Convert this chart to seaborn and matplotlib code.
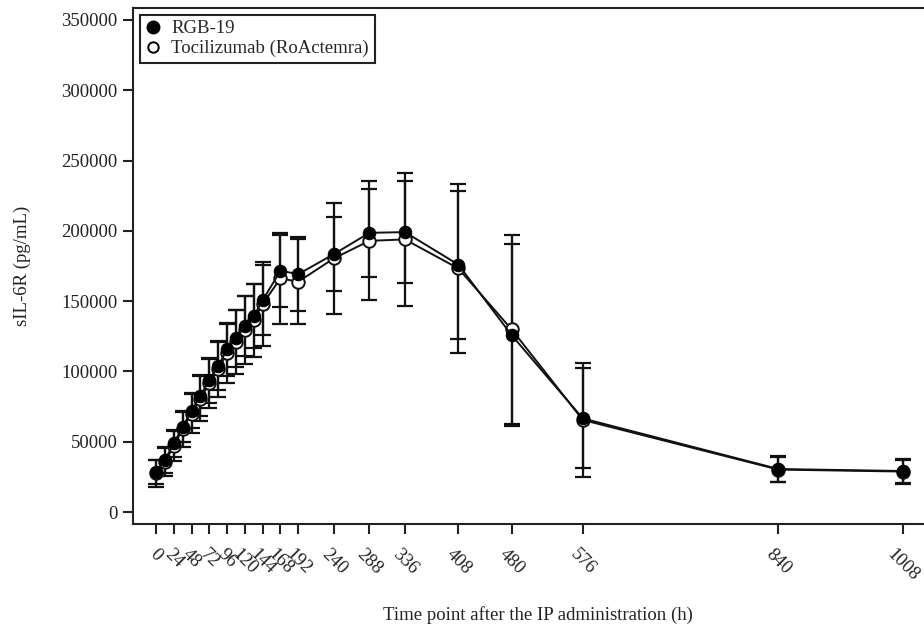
import matplotlib
matplotlib.use("Agg")
import matplotlib.pyplot as plt
from matplotlib.lines import Line2D
import seaborn as sns
import pandas as pd

# ---- data ----
time_h = [0, 12, 24, 36, 48, 60, 72, 84, 96, 108, 120, 132, 144, 168, 192,
          240, 288, 336, 408, 480, 576, 840, 1008]
rgb_mean = [28700, 37000, 48800, 60700, 72000, 82700, 93900, 104000, 115700,
            123500, 132300, 139400, 150700, 171600, 169200, 183400, 198600,
            199100, 176000, 125800, 66600, 30600, 29200]
rgb_sd = [8500, 9000, 9500, 11000, 12500, 14500, 16000, 17500, 19000, 20000,
          21500, 23000, 25000, 25600, 26100, 26300, 31300, 36500, 52600,
          64500, 35500, 9000, 8300]
toci_mean = [27500, 35500, 47000, 59000, 70000, 80500, 91500, 101500, 113000,
             121000, 129500, 136500, 148000, 166200, 163800, 180400, 192900,
             193900, 173300, 129900, 65500, 30200, 28800]
toci_sd = [9500, 10000, 11000, 12500, 14000, 16000, 17500, 19500, 21000,
           22500, 24000, 26000, 30000, 32500, 30100, 39500, 42300, 47200,
           60000, 67000, 40300, 9000, 8500]
xtick_vals = [0, 24, 48, 72, 96, 120, 144, 168, 192, 240, 288, 336, 408, 480,
              576, 840, 1008]
ytick_vals = [0, 50000, 100000, 150000, 200000, 250000, 300000, 350000]
series_names = ["RGB-19", "Tocilizumab (RoActemra)"]

df_rgb = pd.DataFrame({"time": time_h, "value": rgb_mean, "sd": rgb_sd})
df_toc = pd.DataFrame({"time": time_h, "value": toci_mean, "sd": toci_sd})

sns.set_theme(style="ticks")
plt.rcParams["font.family"] = ["Liberation Serif", "DejaVu Serif"]
plt.rcParams["axes.linewidth"] = 1.5

fig = plt.figure(figsize=(9.24, 6.3), dpi=100)
W, H = 924, 630
px_per_h = 0.741
x_left = -31
x_right = 1062
ax_w = (x_right - x_left) * px_per_h
ax = fig.add_axes([133 / W, (H - 524) / H, ax_w / W, (524 - 8) / H])

# error bars
for d in (df_toc, df_rgb):
    ax.errorbar(d["time"], d["value"], yerr=d["sd"], fmt="none",
                ecolor="#111111", elinewidth=1.6, capsize=6, capthick=1.6,
                zorder=2)

# lines + markers
sns.lineplot(data=df_toc, x="time", y="value", ax=ax, color="#111111",
             linewidth=1.4, marker="o", markersize=9,
             markerfacecolor="white", markeredgecolor="#111111",
             markeredgewidth=1.4, zorder=3, label=series_names[1])
sns.lineplot(data=df_rgb, x="time", y="value", ax=ax, color="#111111",
             linewidth=1.4, marker="o", markersize=9,
             markerfacecolor="#000000", markeredgecolor="#000000",
             zorder=4, label=series_names[0])

ax.set_xlim(x_left, x_right)
ax.set_ylim(-8500, 358500)
ax.set_xticks(xtick_vals)
ax.set_xticklabels([str(v) for v in xtick_vals], rotation=-45,
                   ha="center", va="top", fontsize=13.5)
ax.set_yticks(ytick_vals)
ax.set_yticklabels([str(v) for v in ytick_vals], fontsize=13.5)
ax.tick_params(axis="both", direction="out", length=7, width=1.5,
               colors="#222222", labelcolor="#222222")
ax.tick_params(axis="x", pad=9)
ax.tick_params(axis="y", pad=4)
for s in ax.spines.values():
    s.set_visible(True)
    s.set_color("#222222")
    s.set_linewidth(1.5)

ax.set_xlabel("Time point after the IP administration (h)", fontsize=13.5,
              color="#222222", labelpad=15)
ax.set_ylabel("sIL-6R (pg/mL)", fontsize=13.5, color="#222222", labelpad=22)

handles = [
    Line2D([], [], linestyle="none", marker="o", markersize=9,
           markerfacecolor="black", markeredgecolor="black"),
    Line2D([], [], linestyle="none", marker="o", markersize=7.5,
           markerfacecolor="white", markeredgecolor="black",
           markeredgewidth=1.4),
]
leg = ax.legend(handles, series_names, loc="upper left", frameon=True,
                fancybox=False, edgecolor="#222222", framealpha=1,
                borderaxespad=0.35, handlelength=0.8, handletextpad=0.6,
                labelspacing=0.15, borderpad=0.3, fontsize=13.5)
leg.get_frame().set_linewidth(1.5)

fig.savefig("out.png", dpi=100)
